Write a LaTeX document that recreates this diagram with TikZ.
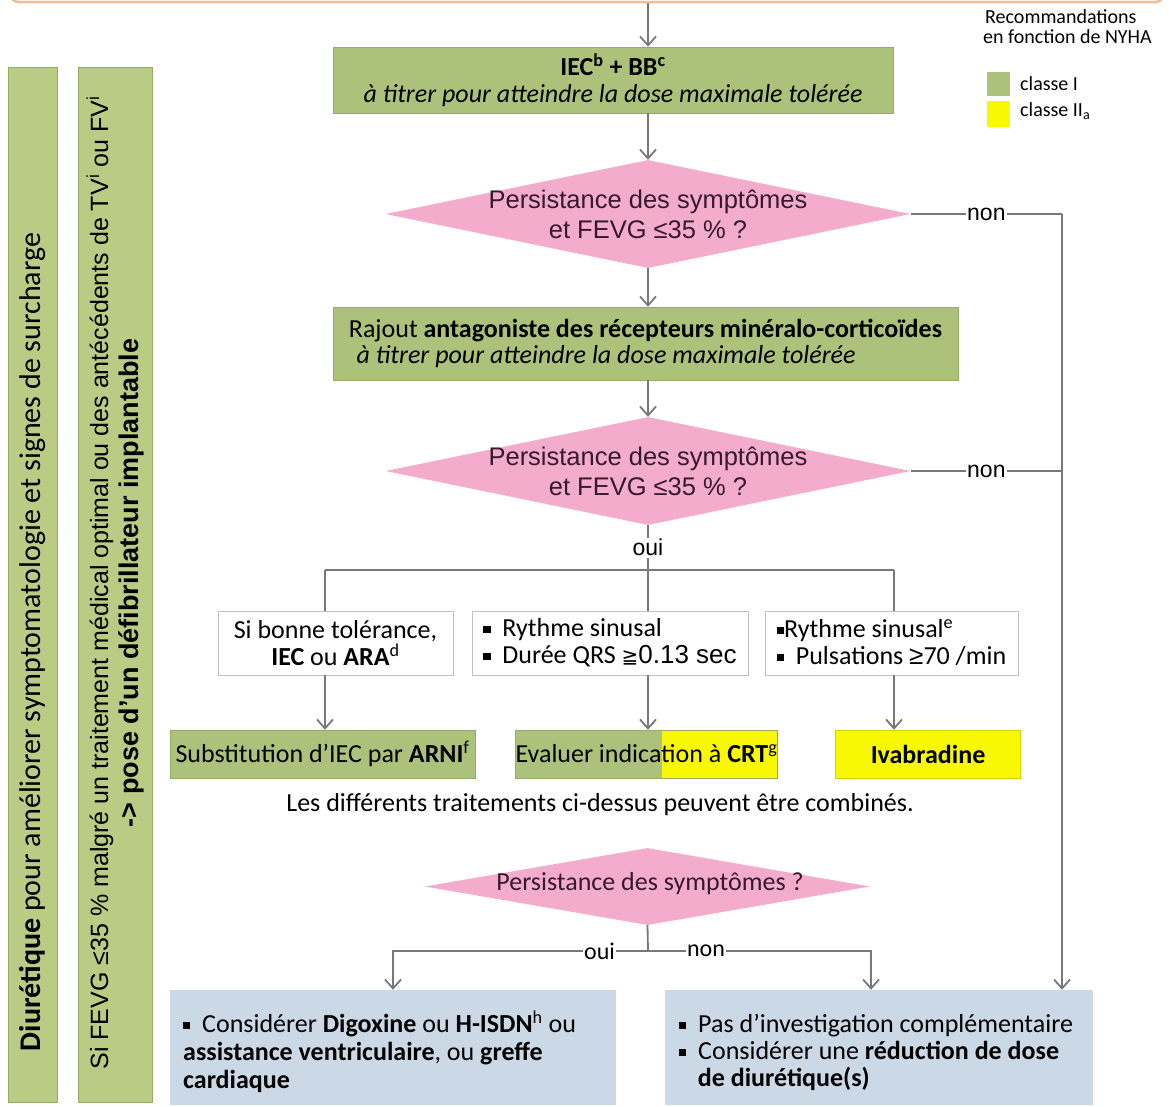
\documentclass[tikz,border=0pt]{standalone}
\usepackage{fontspec}
\setmainfont{Carlito}
\newfontfamily\arial{Liberation Sans}
\newfontfamily\dejavu{DejaVu Sans}
\usetikzlibrary{shapes.geometric,arrows.meta,calc}
\definecolor{gbox}{RGB}{172,194,122}
\definecolor{gbar}{RGB}{186,204,132}
\definecolor{gbord}{RGB}{150,170,100}
\definecolor{ybox}{RGB}{248,248,0}
\definecolor{pinkd}{RGB}{244,172,204}
\definecolor{bbox}{RGB}{203,216,230}
\definecolor{lgrey}{RGB}{120,120,120}
\definecolor{orl}{RGB}{240,190,150}
\definecolor{dtxt}{RGB}{55,25,45}
\newcommand{\bul}{\rule[0.14em]{0.28em}{0.28em}}
\tikzset{
  line/.style={draw=lgrey, line width=1.8pt},
  arr/.style={line, -{Straight Barb[length=9pt,width=16pt]}},
  body/.style={font=\fontsize{26}{27}\selectfont},
  gnode/.style={fill=gbox, draw=gbord, line width=0.5pt, inner sep=0pt, body},
  ynode/.style={fill=ybox, draw=ybox!85!black, line width=0.5pt, inner sep=0pt, body},
  dia/.style={diamond, fill=pinkd, inner sep=0pt},
  diatext/.style={font=\arial\fontsize{25.5}{30}\selectfont, text=dtxt, align=center, inner sep=0pt},
  cond/.style={draw=black!25, fill=white, line width=0.8pt, inner sep=0pt, body},
  lbl/.style={fill=white, inner sep=1.5pt, font=\arial\fontsize{23}{24}\selectfont},
  lblc/.style={fill=white, inner sep=1.5pt, font=\fontsize{24}{25}\selectfont},
  bar/.style={fill=gbar, draw=gbord, line width=0.6pt, inner sep=0pt},
  bluebox/.style={fill=bbox, draw=none, inner sep=0pt},
  legtext/.style={font=\fontsize{20}{19}\selectfont, inner sep=0pt},
}
\begin{document}
\begin{tikzpicture}[x=1pt,y=-1pt]
\useasboundingbox (0,0) rectangle (1169,1106);
% top frame (cut off)
\node[draw=orl, fill=orange!3, line width=2.5pt, rounded corners=8pt, minimum width=1153pt, minimum height=40pt] (topbox) at (587,-18) {};
% side bars
\node[bar, minimum width=49pt, minimum height=1035pt] (bar1) at (32.5,584.5) {};
\node[bar, minimum width=74pt, minimum height=1035pt] (bar2) at (115,584.5) {};
\node[rotate=90, font=\fontsize{30}{32}\selectfont, inner sep=0pt] (bar1t) at (33,642) {\textbf{Diurétique} pour améliorer symptomatologie et signes de surcharge};
\node[rotate=90, font=\arial\fontsize{25}{30}\selectfont, align=center, inner sep=0pt] (bar2t) at (115,583) {Si FEVG ≤35 \% malgré un traitement médical optimal ou des antécédents de TV\textsuperscript{i} ou FV\textsuperscript{i}\\ {\fontsize{27}{30}\selectfont\textbf{-> pose d’un défibrillateur implantable}}};
% legend
\node[anchor=west, legtext] (legt1) at (985,17) {Recommandations};
\node[anchor=west, legtext] (legt2) at (983,37) {en fonction de NYHA};
\node[fill=gbox, minimum width=23pt, minimum height=24pt, inner sep=0pt] (lg1) at (998.5,84) {};
\node[fill=ybox, minimum width=23pt, minimum height=26pt, inner sep=0pt] (lg2) at (998.5,114) {};
\node[anchor=west, legtext] (lg1t) at (1020,84) {classe I};
\node[anchor=west, legtext] (lg2t) at (1020,111) {classe II\textsubscript{a}};
% main flow
\node[gnode, minimum width=560pt, minimum height=66pt, align=center] (iec) at (613,80) {\textbf{IEC\textsuperscript{b} + BB\textsuperscript{c}}\\ \textit{à titrer pour atteindre la dose maximale tolérée}};
\node[dia, minimum width=525pt, minimum height=108pt] (d1) at (648,214) {};
\node[diatext] (d1t) at (d1) {Persistance des symptômes\\ et FEVG ≤35 \% ?};
\node[gnode, minimum width=625pt, minimum height=73pt, align=left, font=\fontsize{26}{26}\selectfont] (mra) at (645.5,343.5) {Rajout \textbf{antagoniste des récepteurs minéralo-corticoïdes}\\ \hspace*{0.3em}\textit{à titrer pour atteindre la dose maximale tolérée}};
\node[dia, minimum width=525pt, minimum height=108pt] (d2) at (648,471) {};
\node[diatext] (d2t) at (d2) {Persistance des symptômes\\ et FEVG ≤35 \% ?};
% conditions
\node[cond, minimum width=235pt, minimum height=64pt, align=center] (ca) at (335.5,643) {Si bonne tolérance,\\ \textbf{IEC} ou \textbf{ARA}\textsuperscript{d}};
\node[cond, minimum width=276pt, minimum height=64pt, align=left] (cb) at (610,643) {\bul\ \ Rythme sinusal\\ \bul\ \ Durée QRS {\dejavu\fontsize{20}{20}\selectfont ≧}{\arial\fontsize{26}{26}\selectfont 0.13 sec}};
\node[cond, minimum width=253pt, minimum height=64pt, align=left] (cc) at (891.5,643) {\bul Rythme sinusal\textsuperscript{e}\\ \bul\ \ Pulsations {\arial ≥}70 /min};
% results
\node[gnode, minimum width=305pt, minimum height=48pt] (r1) at (322.5,754) {Substitution d’IEC par \textbf{ARNI}\textsuperscript{f}};
\node[gnode, minimum width=257pt, minimum height=48pt, path picture={\fill[ybox] ([xshift=15.5pt]path picture bounding box.north) rectangle (path picture bounding box.south east);}] (r2) at (646.5,754) {Evaluer indication à \textbf{CRT}\textsuperscript{g}};
\node[ynode, minimum width=185pt, minimum height=48pt] (r3) at (928,754) {\textbf{Ivabradine}};
\node[body, inner sep=0pt] (comb) at (600,805) {Les différents traitements ci-dessus peuvent être combinés.};
\node[dia, minimum width=445pt, minimum height=77pt] (d3) at (647.5,886.5) {};
\node[font=\fontsize{26}{26}\selectfont, text=dtxt, inner sep=0pt] (d3t) at (650,884) {Persistance des symptômes ?};
% bottom boxes
\node[bluebox, minimum width=446pt, minimum height=115pt] (bl) at (393,1047.5) {};
\node[bluebox, minimum width=428pt, minimum height=115pt] (br) at (879,1047.5) {};
\node[anchor=north west, align=left, font=\fontsize{26}{28}\selectfont, inner sep=0pt] (blt) at (183,1011) {\bul\ \ Considérer \textbf{Digoxine} ou \textbf{H-ISDN}\textsuperscript{h} ou\\ \textbf{assistance ventriculaire}, ou \textbf{greffe}\\ \textbf{cardiaque}};
\node[anchor=north west, align=left, font=\fontsize{26}{27}\selectfont, inner sep=0pt] (brt) at (679,1014) {\bul\ \ Pas d’investigation complémentaire\\ \bul\ \ Considérer une \textbf{réduction de dose}\\ \hspace*{0.72em}\textbf{de diurétique(s)}};
% connectors
\draw[arr] (topbox.south -| d1.north) -- (iec.north -| d1.north);
\draw[arr] (iec.south -| d1.north) -- (d1.north);
\draw[arr] (d1.south) -- (mra.north -| d1.south);
\draw[arr] (mra.south -| d2.north) -- (d2.north);
\coordinate (rr) at (1062,214);
\draw[line] (d1.east) -- node[lbl]{non} (rr);
\draw[line] (d2.east) -- node[lbl]{non} (d2.east -| rr);
\draw[arr] (rr) -- (rr |- br.north);
\coordinate (hb) at (648,570);
\draw[line] (d2.south) -- node[lbl]{oui} (hb);
\coordinate (hl) at (325,570);
\coordinate (hr) at (894,570);
\draw[line] (hl) -- (hr);
\draw[line] (hl) -- (hl |- ca.north);
\draw[line] (hb) -- (hb |- cb.north);
\draw[line] (hr) -- (hr |- cc.north);
\draw[arr] (ca.south -| hl) -- (r1.north -| hl);
\draw[arr] (cb.south -| hb) -- (r2.north -| hb);
\draw[arr] (cc.south -| hr) -- (r3.north -| hr);
\coordinate (hb2) at (648,951);
\coordinate (xl) at (393,951);
\coordinate (xr) at (871,951);
\draw[line] (d3.south) -- (hb2);
\draw[arr] (hb2) -- node[lblc, pos=0.19]{oui} (xl) -- (xl |- bl.north);
\draw[arr] (hb2) -- node[lblc, pos=0.26]{non} (xr) -- (xr |- br.north);
\end{tikzpicture}
\end{document}
